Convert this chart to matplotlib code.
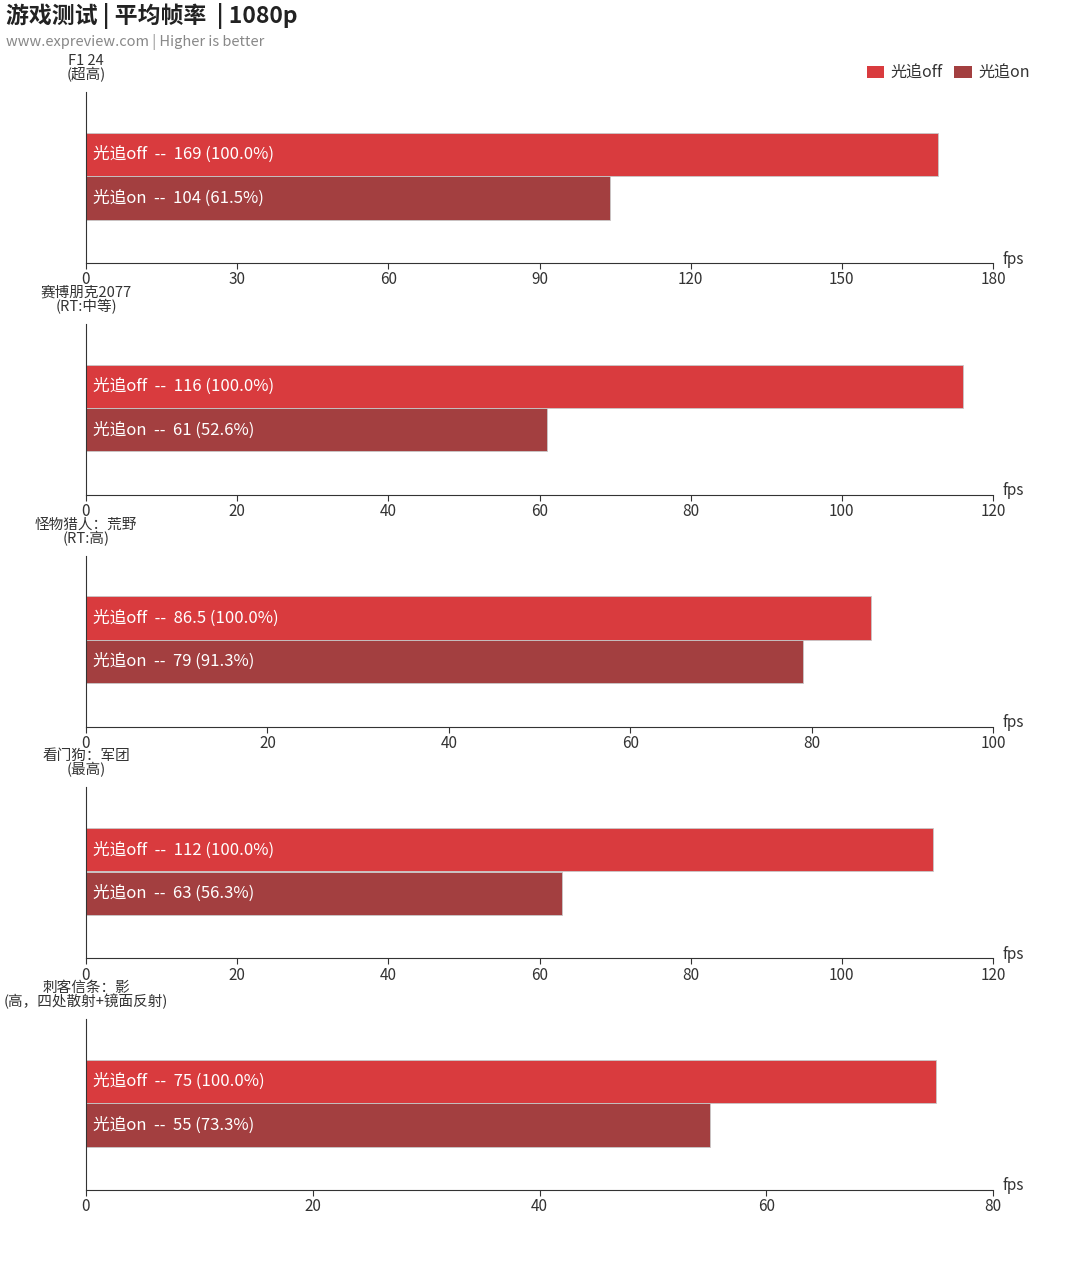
import math
import matplotlib.pyplot as plt
from matplotlib.patches import Patch

plt.rcParams['font.family'] = ['Noto Sans CJK SC', 'DejaVu Sans']

# data
games = ['F1 24\n(超高)', '赛博朋克2077\n(RT:中等)', '怪物猎人：荒野\n(RT:高)',
         '看门狗：军团\n(最高)', '刺客信条：影\n(高，四处散射+镜面反射)']
rt_off = [169, 116, 86.5, 112, 75]
rt_on = [104, 61, 79, 63, 55]
x_max = [180, 120, 100, 120, 80]
x_step = [30, 20, 20, 20, 20]
series = ['光追off', '光追on']
colors = ['#d93b3e', '#a33f40']


def pct(v, ref):
    return math.floor(v / ref * 1000 + 0.5 + 1e-9) / 10


W, H = 1080, 1265
fig = plt.figure(figsize=(W / 100, H / 100), dpi=100)

left, right = 86, 993
for i in range(len(games)):
    base = 263 + 231.75 * i
    top = base - 171
    ax = fig.add_axes([left / W, 1 - base / H, (right - left) / W, 171 / H])
    ax.set_xlim(0, x_max[i])
    ax.set_ylim(-1.494, 2.437)
    ax.barh(1, rt_off[i], height=0.99, color=colors[0], edgecolor='#c8c8c8', linewidth=0.6)
    ax.barh(0, rt_on[i], height=0.99, color=colors[1], edgecolor='#c8c8c8', linewidth=0.6)
    tx = x_max[i] * 7 / (right - left)
    ax.text(tx, 1, f'{series[0]}  --  {rt_off[i]:g} ({pct(rt_off[i], rt_off[i]):.1f}%)',
            color='white', fontsize=12, va='center', ha='left')
    ax.text(tx, 0, f'{series[1]}  --  {rt_on[i]:g} ({pct(rt_on[i], rt_off[i]):.1f}%)',
            color='white', fontsize=12, va='center', ha='left')
    for s in ['top', 'right']:
        ax.spines[s].set_visible(False)
    ax.spines['left'].set_color('#333333')
    ax.spines['bottom'].set_color('#333333')
    ax.set_yticks([])
    ax.set_xticks(range(0, x_max[i] + 1, x_step[i]))
    ax.tick_params(axis='x', length=4, color='#333333', labelcolor='#333333',
                   labelsize=11, pad=2)
    ax.text(1.011, 4 / 171, 'fps', transform=ax.transAxes, fontsize=11, color='#333333',
            va='center', ha='left')
    fig.text(left / W, 1 - (top - 24) / H, games[i], ha='center', va='center',
             fontsize=10.5, color='#333333', linespacing=0.95)

fig.text(6 / W, 1 - 16 / H, '游戏测试 | 平均帧率  | 1080p', fontsize=16.5, fontweight='bold',
         color='#222222', ha='left', va='center')
fig.text(6 / W, 1 - 42 / H, 'www.expreview.com | Higher is better', fontsize=10.5,
         color='#888888', ha='left', va='center')

handles = [Patch(facecolor=c, label=s) for c, s in zip(colors, series)]
fig.legend(handles=handles, loc='center right', bbox_to_anchor=(1044 / W, 1 - 73 / H),
           ncol=2, frameon=False, fontsize=11.5, handlelength=1.1, handleheight=0.8,
           handletextpad=0.4, columnspacing=0.7, labelcolor='#333333')

fig.savefig('out.png', dpi=100)
